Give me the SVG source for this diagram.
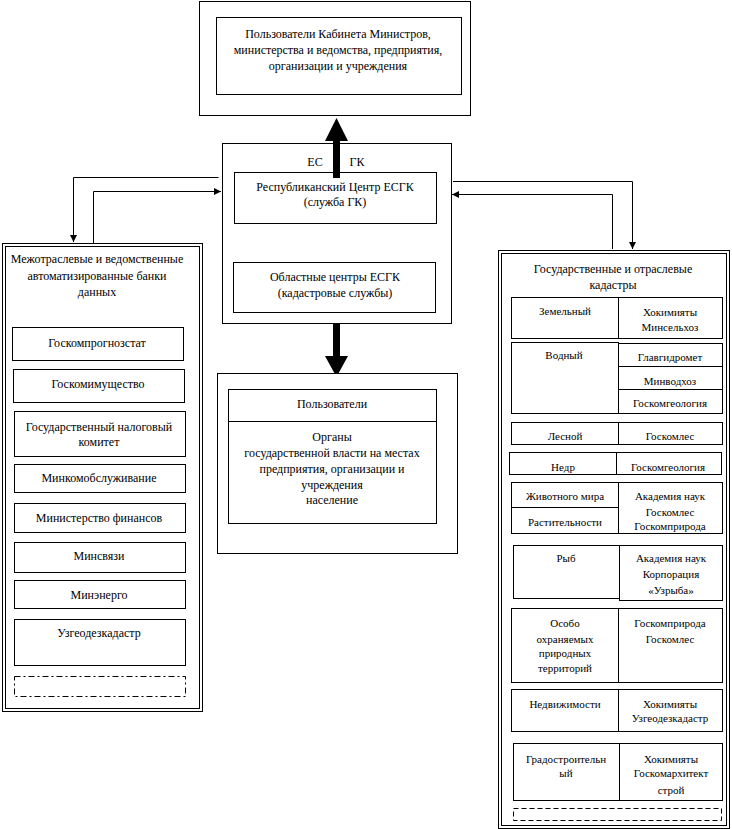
<svg xmlns="http://www.w3.org/2000/svg" width="732" height="829" viewBox="0 0 732 829">
<defs>
<marker id="ah" markerUnits="userSpaceOnUse" markerWidth="8" markerHeight="8" refX="7" refY="4" orient="auto">
<path d="M0,0.5 L7,4 L0,7.5 z" fill="#000"/>
</marker>
<style>
rect{fill:#fff;stroke:#000;stroke-width:1}
line,polyline{stroke:#000;stroke-width:1;fill:none}
text{font-family:"Liberation Serif","Times New Roman",serif;font-size:12px;fill:#000;text-anchor:middle}
.s{font-size:11px}
.dd{stroke-dasharray:6 3 2 3}
.da{stroke-dasharray:5 3}
</style>
</defs>
<rect x="0" y="0" width="732" height="829" style="stroke:none"/>

<g id="connectors">
<polyline points="218.5,177.5 73.5,177.5 73.5,242" marker-end="url(#ah)"/>
<polyline points="93.5,243 93.5,191.5 221,191.5" marker-end="url(#ah)"/>
<polyline points="453,181.5 632.5,181.5 632.5,249" marker-end="url(#ah)"/>
<polyline points="612.5,249 612.5,194.5 452,194.5" marker-end="url(#ah)"/>
<line x1="336.5" y1="223" x2="336.5" y2="261" marker-end="url(#ah)"/>
</g>

<g id="top-users">
<rect x="199.5" y="1.5" width="271" height="114"/>
<rect x="216.5" y="17.5" width="245" height="77"/>
<text x="338" y="38">Пользователи Кабинета Министров,</text>
<text x="338" y="54">министерства и ведомства, предприятия,</text>
<text x="338" y="70">организации и учреждения</text>
</g>

<g id="esgk">
<rect x="222.5" y="143.5" width="229" height="180"/>
<text x="315" y="166">ЕС</text>
<text x="357" y="166">ГК</text>
</g>

<g id="rep-center">
<rect x="234.5" y="172.5" width="202" height="51"/>
<text x="335" y="191">Республиканский Центр ЕСГК</text>
<text x="335" y="206">(служба ГК)</text>
</g>

<g id="obl-centers">
<rect x="233.5" y="262.5" width="202" height="50"/>
<text x="335" y="281">Областные центры ЕСГК</text>
<text x="335" y="297">(кадастровые службы)</text>
</g>

<g id="big-arrows">
<polygon points="333,178 333,141 325,141 336.5,118 348,141 340,141 340,178" fill="#000"/>
<polygon points="333,323 333,356 325,356 336.5,377 348,356 340,356 340,323" fill="#000"/>
</g>

<g id="users">
<rect x="217.5" y="373.5" width="240" height="180"/>
<rect x="228.5" y="389.5" width="208" height="134"/>
<line x1="228.5" y1="421.5" x2="436.5" y2="421.5"/>
<text x="332" y="408">Пользователи</text>
<text x="332" y="441">Органы</text>
<text x="332" y="457">государственной власти на местах</text>
<text x="332" y="473">предприятия, организации и</text>
<text x="332" y="489">учреждения</text>
<text x="332" y="504">население</text>
</g>

<g id="banks">
<rect x="2.5" y="243.5" width="200" height="468"/>
<rect x="5.5" y="246.5" width="194" height="462"/>
<text x="97" y="263">Межотраслевые и ведомственные</text>
<text x="97" y="280">автоматизированные банки</text>
<text x="97" y="296">данных</text>
</g>
<g id="goskomprognozstat"><rect x="12.5" y="327.5" width="171" height="33"/><text x="97" y="347">Госкомпрогнозстат</text></g>
<g id="goskomimushchestvo"><rect x="13.5" y="369.5" width="171" height="33"/><text x="98" y="388">Госкомимущество</text></g>
<g id="nalog"><rect x="14.5" y="411.5" width="171" height="45"/><text x="99" y="431">Государственный налоговый</text><text x="99" y="446">комитет</text></g>
<g id="minkom"><rect x="14.5" y="464.5" width="171" height="28"/><text x="99" y="482">Минкомобслуживание</text></g>
<g id="minfin"><rect x="14.5" y="503.5" width="171" height="29"/><text x="99" y="522">Министерство финансов</text></g>
<g id="minsvyazi"><rect x="14.5" y="542.5" width="171" height="30"/><text x="99" y="560">Минсвязи</text></g>
<g id="minenergo"><rect x="14.5" y="580.5" width="171" height="28"/><text x="99" y="599">Минэнерго</text></g>
<g id="uzgeo"><rect x="14.5" y="619.5" width="171" height="46"/><text x="99" y="637">Узгеодезкадастр</text></g>
<g id="left-more"><rect class="dd" x="14.5" y="676.5" width="171" height="20"/></g>

<g id="cadastres">
<rect x="498.5" y="250.5" width="231" height="578"/>
<rect x="501.5" y="253.5" width="225" height="572"/>
<text x="613" y="273">Государственные и отраслевые</text>
<text x="613" y="289">кадастры</text>
</g>
<g id="zemelny" class="s">
<rect x="511.5" y="297.5" width="211" height="41"/>
<line x1="618.5" y1="297.5" x2="618.5" y2="338.5"/>
<text class="s" x="565" y="315">Земельный</text>
<text class="s" x="670" y="316">Хокимияты</text>
<text class="s" x="670" y="331">Минсельхоз</text>
</g>
<g id="vodny">
<rect x="511.5" y="342.5" width="107" height="71"/>
<rect x="618.5" y="343.5" width="104" height="70"/>
<line x1="618.5" y1="366.5" x2="722.5" y2="366.5"/>
<line x1="618.5" y1="389.5" x2="722.5" y2="389.5"/>
<text class="s" x="564" y="359">Водный</text>
<text class="s" x="670" y="361">Главгидромет</text>
<text class="s" x="670" y="385">Минводхоз</text>
<text class="s" x="670" y="407">Госкомгеология</text>
</g>
<g id="lesnoy">
<rect x="511.5" y="422.5" width="211" height="22"/>
<line x1="618.5" y1="422.5" x2="618.5" y2="444.5"/>
<text class="s" x="565" y="440">Лесной</text>
<text class="s" x="670" y="440">Госкомлес</text>
</g>
<g id="nedr">
<rect x="509.5" y="452.5" width="212" height="22"/>
<line x1="616.5" y1="452.5" x2="616.5" y2="474.5"/>
<text class="s" x="563" y="471">Недр</text>
<text class="s" x="668" y="471">Госкомгеология</text>
</g>
<g id="zhivotny">
<rect x="511.5" y="482.5" width="211" height="51"/>
<line x1="618.5" y1="482.5" x2="618.5" y2="533.5"/>
<line x1="511.5" y1="507.5" x2="618.5" y2="507.5"/>
<text class="s" x="565" y="500">Животного мира</text>
<text class="s" x="565" y="526">Растительности</text>
<text class="s" x="670" y="500">Академия наук</text>
<text class="s" x="670" y="516">Госкомлес</text>
<text class="s" x="670" y="530">Госкомприрода</text>
</g>
<g id="ryb">
<rect x="513.5" y="545.5" width="106" height="53"/>
<rect x="619.5" y="545.5" width="103" height="55"/>
<text class="s" x="566" y="562">Рыб</text>
<text class="s" x="671" y="562">Академия наук</text>
<text class="s" x="671" y="578">Корпорация</text>
<text class="s" x="671" y="594">«Узрыба»</text>
</g>
<g id="oopt">
<rect x="511.5" y="608.5" width="211" height="74"/>
<line x1="618.5" y1="608.5" x2="618.5" y2="682.5"/>
<text class="s" x="565" y="627">Особо</text>
<text class="s" x="565" y="643">охраняемых</text>
<text class="s" x="565" y="657">природных</text>
<text class="s" x="565" y="672">территорий</text>
<text class="s" x="670" y="627">Госкомприрода</text>
<text class="s" x="670" y="643">Госкомлес</text>
</g>
<g id="nedvizh">
<rect x="511.5" y="689.5" width="211" height="42"/>
<line x1="618.5" y1="689.5" x2="618.5" y2="731.5"/>
<text class="s" x="565" y="708">Недвижимости</text>
<text class="s" x="670" y="708">Хокимияты</text>
<text class="s" x="670" y="722">Узгеодезкадастр</text>
</g>
<g id="gradostr">
<rect x="513.5" y="743.5" width="209" height="57"/>
<line x1="619.5" y1="743.5" x2="619.5" y2="800.5"/>
<text class="s" x="566" y="763">Градостроительн</text>
<text class="s" x="566" y="777">ый</text>
<text class="s" x="671" y="763">Хокимияты</text>
<text class="s" x="671" y="777">Госкомархитект</text>
<text class="s" x="671" y="794">строй</text>
</g>
<g id="right-more"><rect class="da" x="513.5" y="808.5" width="208" height="12"/></g>
</svg>
